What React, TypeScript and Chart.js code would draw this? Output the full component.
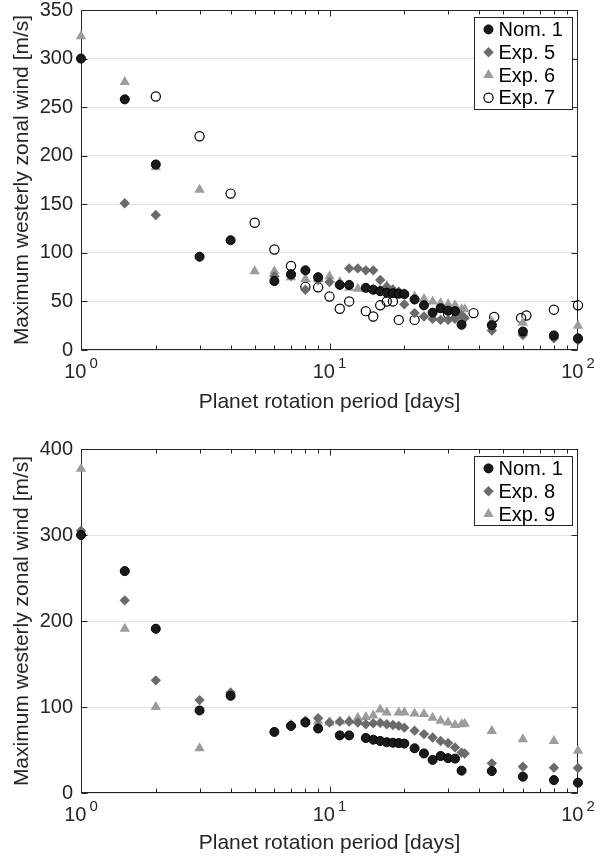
import React, { useEffect, useRef } from 'react';
import { Chart, registerables } from 'chart.js';
import { drawPoint } from 'chart.js/helpers';

Chart.register(...registerables);

const FONT = "'Liberation Sans', Arial, Helvetica, sans-serif";
const AXIS_COLOR = '#262626';

// ---------- shared axis data ----------
const xTickValues = [1, 10, 100];
const xTickExponents = ['0', '1', '2'];
const xTitle = 'Planet rotation period [days]';
const yTitle = 'Maximum westerly zonal wind [m/s]';

// ---------- Nominal run (both panels) ----------
const nomLabel = 'Nom. 1';
const nomX = [1, 1.5, 2, 3, 4, 6, 7, 8, 9, 11, 12, 14, 15, 16, 17, 18, 19, 20, 22, 24, 26, 28, 30, 32, 34, 45, 60, 80, 100];
const nomY = [300, 258, 191, 96, 113, 71, 78, 82, 75, 67, 67, 64, 62, 60.5, 59, 58.5, 58, 57.5, 52, 46, 38.5, 43, 40.5, 40, 26, 25.5, 19, 15, 12];

// ---------- Top panel ----------
const exp5Label = 'Exp. 5';
const exp5X = [1.5, 2, 6, 7, 8, 9, 10, 11, 12, 13, 14, 15, 16, 17, 18, 19, 20, 22, 24, 26, 28, 30, 32, 34, 35, 45, 60, 80, 100];
const exp5Y = [151, 139, 76, 76, 62, 72, 70, 68, 84, 84, 82, 82, 72, 65, 62, 60, 47, 38, 34.5, 32, 31, 31, 32, 35.5, 33, 20, 15.5, 12, 10];

const exp6Label = 'Exp. 6';
const exp6X = [1, 1.5, 2, 3, 5, 6, 7, 8, 9, 10, 11, 12, 13, 14, 15, 16, 17, 18, 19, 20, 22, 24, 26, 28, 30, 32, 34, 35, 45, 60, 100];
const exp6Y = [323, 276, 188, 165, 81, 81, 75, 73, 73, 76, 70, 64, 63, 63, 63, 62, 66, 62, 59, 58, 55, 52.5, 50, 48, 47, 46, 42, 42, 29, 28, 25];

const exp7Label = 'Exp. 7';
const exp7X = [2, 3, 4, 5, 6, 7, 8, 9, 10, 11, 12, 14, 15, 16, 17, 18, 19, 22, 30, 38, 46, 59, 62, 80, 100];
const exp7Y = [261, 220, 161, 131, 103.5, 86.5, 65, 64.5, 55, 42.5, 50, 40, 34.5, 46, 50, 50, 31, 31, 37, 38, 34, 33, 35.5, 41.5, 46];

// ---------- Bottom panel ----------
const exp8Label = 'Exp. 8';
const exp8X = [1, 1.5, 2, 3, 4, 7, 8, 9, 10, 11, 12, 13, 14, 15, 16, 17, 18, 19, 20, 22, 24, 26, 28, 30, 32, 34, 35, 45, 60, 80, 100];
const exp8Y = [305, 224, 131, 108, 117, 79, 84, 87, 82, 83, 83, 82, 80, 81, 81.5, 80, 79, 78, 76, 72.5, 68.5, 64.5, 60.5, 58, 53, 47, 46, 34.5, 30.5, 29.5, 29];

const exp9Label = 'Exp. 9';
const exp9X = [1, 1.5, 2, 3, 7, 8, 9, 10, 11, 12, 13, 14, 15, 16, 17, 19, 20, 22, 24, 26, 28, 30, 32, 34, 35, 45, 60, 80, 100];
const exp9Y = [377, 191, 100, 52, 79, 83, 83, 82, 83, 84, 87.5, 88.5, 90, 97, 93.5, 93.5, 93.5, 92.5, 92, 87.5, 84, 82, 79, 80, 80.5, 72, 62.5, 60.5, 49];

type Marker = { style: string; radius: number; fill: string; stroke: string; bw: number };
const NOM_M: Marker = { style: 'circle', radius: 4.5, fill: '#1a1a1a', stroke: '#000000', bw: 1 };
const DIAM_M: Marker = { style: 'rectRot', radius: 5.2, fill: '#6b6b6b', stroke: '#6b6b6b', bw: 0 };
const TRI_M: Marker = { style: 'triangle', radius: 6, fill: '#9c9c9c', stroke: '#9c9c9c', bw: 0 };
const OPEN_M: Marker = { style: 'circle', radius: 4.6, fill: 'rgba(0,0,0,0)', stroke: '#000000', bw: 1.2 };

type Series = { label: string; xs: number[]; ys: number[]; m: Marker };

function makeDataset(s: Series) {
  return {
    label: s.label,
    data: s.xs.map((x, i) => ({ x, y: s.ys[i] })),
    pointStyle: s.m.style,
    pointRadius: s.m.radius,
    pointBackgroundColor: s.m.fill,
    pointBorderColor: s.m.stroke,
    pointBorderWidth: s.m.bw,
    backgroundColor: s.m.fill,
    borderColor: s.m.stroke,
    showLine: false,
    clip: false as any,
  };
}

function framePlugin(series: Series[]) {
  return {
    id: 'matlabFrame',
    beforeDatasetsDraw(chart: any) {
      const { ctx, chartArea: a, scales } = chart;
      const xs = scales.x;
      const ys = scales.y;
      const L = Math.round(a.left) + 0.5;
      const R = Math.round(a.right) - 0.5;
      const T = Math.round(a.top) + 0.5;
      const B = Math.round(a.bottom) - 0.5;
      ctx.save();
      ctx.strokeStyle = AXIS_COLOR;
      ctx.lineWidth = 1;
      ctx.strokeRect(L, T, R - L, B - T);
      ctx.beginPath();
      for (let d = 1; d <= 10; d *= 10) {
        for (let m = 1; m <= 9; m++) {
          const v = d * m;
          if (v < 1 || v > 100) continue;
          const px = Math.round(xs.getPixelForValue(v)) + 0.5;
          const len = m === 1 ? 6 : 4;
          ctx.moveTo(px, B); ctx.lineTo(px, B - len);
          ctx.moveTo(px, T); ctx.lineTo(px, T + len);
        }
      }
      ys.ticks.forEach((t: any) => {
        const py = Math.round(ys.getPixelForValue(t.value)) + 0.5;
        ctx.moveTo(L, py); ctx.lineTo(L + 6, py);
        ctx.moveTo(R, py); ctx.lineTo(R - 6, py);
      });
      ctx.stroke();
      // x tick labels 10^n
      ctx.fillStyle = AXIS_COLOR;
      ctx.textBaseline = 'middle';
      ctx.textAlign = 'left';
      xTickValues.forEach((v, i) => {
        const px = xs.getPixelForValue(v);
        ctx.font = `20px ${FONT}`;
        const w1 = ctx.measureText('10').width;
        ctx.font = `15px ${FONT}`;
        const w2 = ctx.measureText(xTickExponents[i]).width;
        const gap = 3;
        const start = px - (w1 + gap + w2) / 2;
        ctx.font = `20px ${FONT}`;
        ctx.fillText('10', start, a.bottom + 22);
        ctx.font = `15px ${FONT}`;
        ctx.fillText(xTickExponents[i], start + w1 + gap, a.bottom + 14);
      });
      ctx.restore();
    },
    afterDraw(chart: any) {
      const { ctx, chartArea: a } = chart;
      const rowH = 22.8;
      const boxW = 98;
      const left = Math.round(a.right) - 104 + 0.5;
      const top = Math.round(a.top) + 7 + 0.5;
      const h = Math.round(rowH * series.length + 1);
      ctx.save();
      ctx.fillStyle = '#ffffff';
      ctx.fillRect(left, top, boxW, h);
      ctx.strokeStyle = AXIS_COLOR;
      ctx.lineWidth = 1;
      ctx.strokeRect(left, top, boxW, h);
      series.forEach((s, i) => {
        const cy = top + rowH * (i + 0.5) + 0.5;
        ctx.fillStyle = s.m.fill;
        ctx.strokeStyle = s.m.stroke;
        ctx.lineWidth = s.m.bw;
        drawPoint(ctx, { pointStyle: s.m.style as any, radius: s.m.radius, rotation: 0, borderWidth: s.m.bw } as any, left + 14, cy);
        ctx.fillStyle = '#000000';
        ctx.font = `20px ${FONT}`;
        ctx.textBaseline = 'middle';
        ctx.textAlign = 'left';
        ctx.fillText(s.label, left + 24, cy + 1);
      });
      ctx.restore();
    },
  };
}

type PanelProps = {
  series: Series[];
  yMax: number;
  yStep: number;
  top: number;
  height: number;
  padTop: number;
  xHeight: number;
  titlePadBottom: number;
};

function Panel(p: PanelProps) {
  const ref = useRef<HTMLCanvasElement | null>(null);
  useEffect(() => {
    if (!ref.current) return;
    const tickFont = { family: FONT, size: 20 };
    const titleFont = { family: FONT, size: 21 };
    const chart = new Chart(ref.current, {
      type: 'scatter',
      data: { datasets: p.series.map(makeDataset) as any },
      options: {
        responsive: false,
        animation: false,
        devicePixelRatio: 1,
        layout: { padding: { top: p.padTop, right: 25, left: 0, bottom: 0 } },
        plugins: { legend: { display: false }, tooltip: { enabled: false } },
        scales: {
          x: {
            type: 'logarithmic',
            min: 1,
            max: 100,
            grid: { display: false },
            border: { display: false },
            ticks: { display: false },
            title: { display: true, text: xTitle, font: titleFont, color: AXIS_COLOR, padding: { top: 0, bottom: p.titlePadBottom } },
            afterFit: (s: any) => { s.height = p.xHeight; },
          },
          y: {
            type: 'linear',
            min: 0,
            max: p.yMax,
            ticks: { stepSize: p.yStep, font: tickFont, color: AXIS_COLOR, padding: 8 },
            grid: { color: '#e3e3e3', drawTicks: false },
            border: { display: false },
            title: { display: true, text: yTitle, font: titleFont, color: AXIS_COLOR, padding: { top: 10, bottom: 0 } },
            afterFit: (s: any) => { s.width = 81; },
          },
        },
      } as any,
      plugins: [framePlugin(p.series)],
    });
    return () => chart.destroy();
  }, []);
  return (
    <canvas
      ref={ref}
      width={603}
      height={p.height}
      style={{ position: 'absolute', left: 0, top: p.top, width: 603, height: p.height }}
    />
  );
}

const topSeries: Series[] = [
  { label: nomLabel, xs: nomX, ys: nomY, m: NOM_M },
  { label: exp5Label, xs: exp5X, ys: exp5Y, m: DIAM_M },
  { label: exp6Label, xs: exp6X, ys: exp6Y, m: TRI_M },
  { label: exp7Label, xs: exp7X, ys: exp7Y, m: OPEN_M },
];

const bottomSeries: Series[] = [
  { label: nomLabel, xs: nomX, ys: nomY, m: NOM_M },
  { label: exp8Label, xs: exp8X, ys: exp8Y, m: DIAM_M },
  { label: exp9Label, xs: exp9X, ys: exp9Y, m: TRI_M },
];

export default function App() {
  return (
    <div style={{ position: 'absolute', left: 0, top: 0, width: 603, height: 856, overflow: 'hidden', background: '#ffffff' }}>
      <Panel series={topSeries} yMax={350} yStep={50} top={-10} height={430} padTop={16} xHeight={70} titlePadBottom={5} />
      <Panel series={bottomSeries} yMax={400} yStep={100} top={420} height={436} padTop={29} xHeight={63} titlePadBottom={0} />
    </div>
  );
}
